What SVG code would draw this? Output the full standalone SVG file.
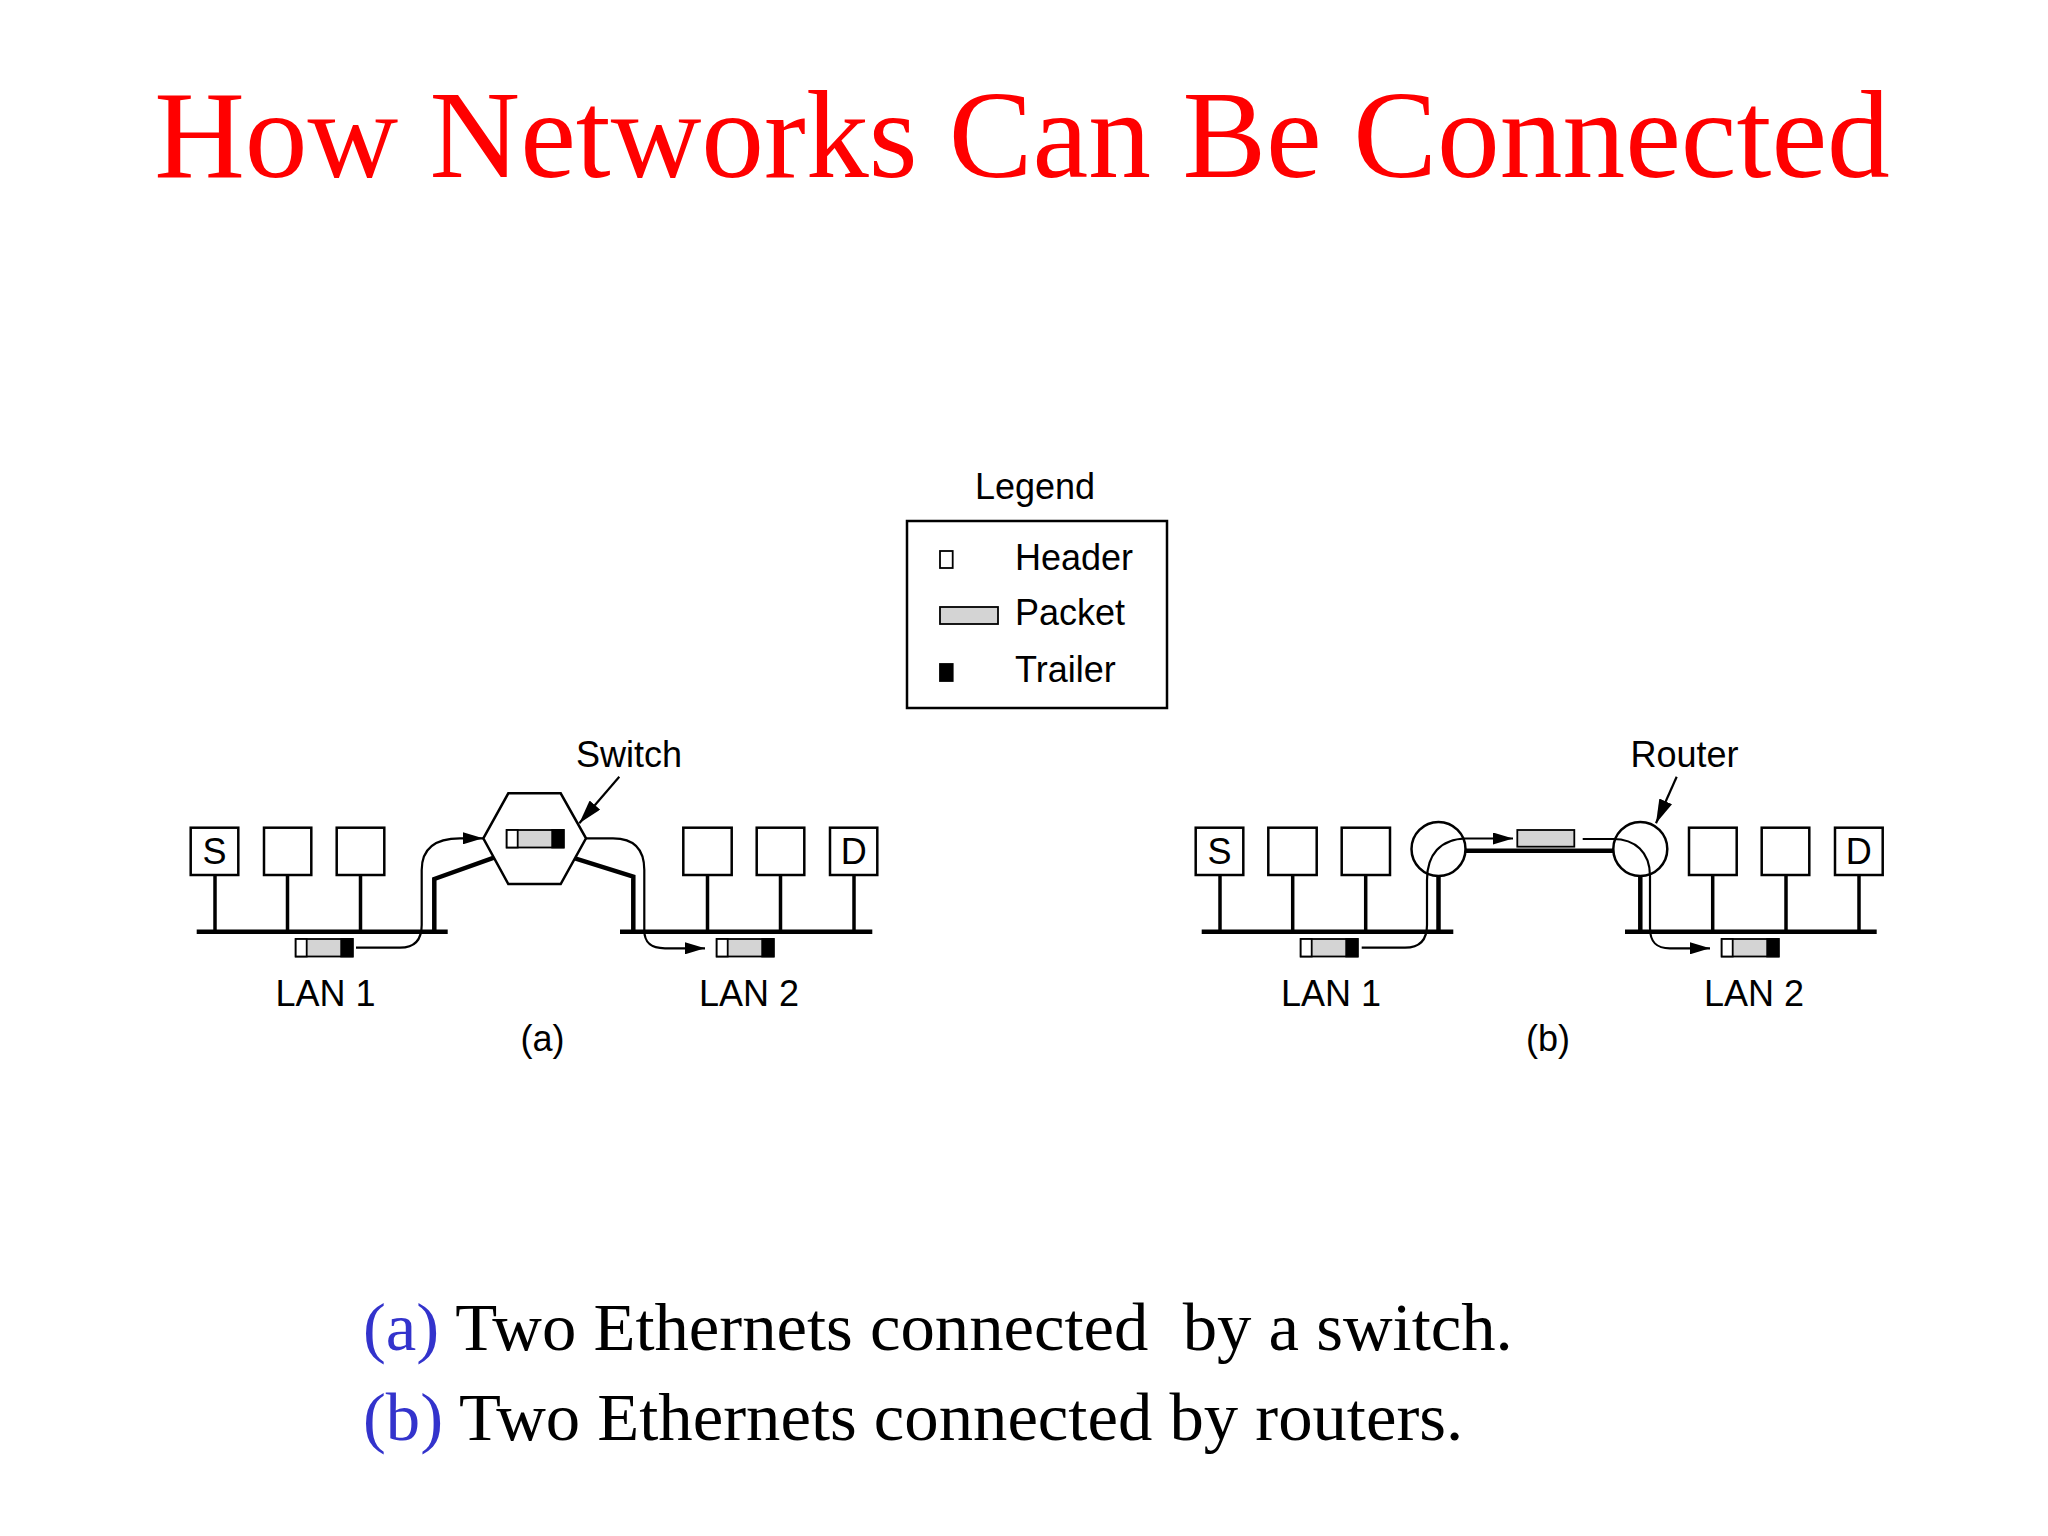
<svg xmlns="http://www.w3.org/2000/svg" xmlns:xlink="http://www.w3.org/1999/xlink" width="2048" height="1536" viewBox="0 0 2048 1536">
<style>
.t{font-family:"Liberation Sans",Arial,sans-serif;font-size:36px;fill:#000}
.ser{font-family:"Liberation Serif","Times New Roman",serif}
.box{fill:#fff;stroke:#000;stroke-width:2.5}
.stem{stroke:#000;stroke-width:3.5;fill:none}
.bus{stroke:#000;stroke-width:4.5;fill:none}
.thin{stroke:#000;stroke-width:2.2;fill:none}
.thick{stroke:#000;stroke-width:4.5;fill:none}
</style>
<defs>
<marker id="ah" markerUnits="userSpaceOnUse" markerWidth="20" markerHeight="12" refX="20" refY="6" orient="auto"><path d="M0,0 L20,6 L0,12 z" fill="#000"/></marker>
<marker id="ah2" markerUnits="userSpaceOnUse" markerWidth="24" markerHeight="14" refX="24" refY="7" orient="auto"><path d="M0,0 L24,7 L0,14 z" fill="#000"/></marker>
<g id="pkt">
<rect x="0" y="0" width="57" height="17.5" fill="#d4d4d4" stroke="#000" stroke-width="1.8"/>
<rect x="0" y="0" width="11" height="17.5" fill="#fff" stroke="#000" stroke-width="1.8"/>
<rect x="45.5" y="0" width="11.5" height="17.5" fill="#000" stroke="#000" stroke-width="1.8"/>
</g>
</defs>
<rect x="0" y="0" width="2048" height="1536" fill="#fff"/>

<g id="title"><text x="1022" y="177" class="ser" font-size="125.5" fill="#ff0000" text-anchor="middle">How Networks Can Be Connected</text></g>

<g id="legend">
<text x="1035" y="499" class="t" font-size="37" text-anchor="middle">Legend</text>
<rect x="907" y="521" width="260" height="187" fill="#fff" stroke="#000" stroke-width="2.5"/>
<rect x="940" y="551" width="12.7" height="17" fill="#fff" stroke="#000" stroke-width="1.8"/>
<rect x="940" y="607" width="58" height="17" fill="#d4d4d4" stroke="#000" stroke-width="1.8"/>
<rect x="940" y="664" width="12.7" height="17" fill="#000" stroke="#000" stroke-width="1.8"/>
<text x="1015" y="570" class="t" font-size="37">Header</text>
<text x="1015" y="625" class="t" font-size="37">Packet</text>
<text x="1015" y="682" class="t" font-size="37">Trailer</text>
</g>

<!-- (a) LAN 1 -->
<g id="a-lan1">
<line class="bus" x1="196.7" y1="931.7" x2="447.7" y2="931.7"/>
<line class="stem" x1="215" y1="875" x2="215" y2="931.7"/>
<line class="stem" x1="287.5" y1="875" x2="287.5" y2="931.7"/>
<line class="stem" x1="360.5" y1="875" x2="360.5" y2="931.7"/>
<rect class="box" x="190.7" y="827.7" width="47.6" height="47.3"/>
<rect class="box" x="264" y="827.7" width="47.3" height="47.3"/>
<rect class="box" x="336.7" y="827.7" width="47.6" height="47.3"/>
<text x="214.5" y="864" class="t" font-size="34" text-anchor="middle">S</text>
<use xlink:href="#pkt" x="295.7" y="939"/>
<text x="325.5" y="1006" class="t" text-anchor="middle">LAN 1</text>
</g>

<g id="switch">
<polygon points="483.3,838.3 508.3,793.3 560.7,793.3 586,838.3 560.7,884 508.3,884" fill="#fff" stroke="#000" stroke-width="2.5"/>
<use xlink:href="#pkt" x="506.7" y="830"/>
<text x="629" y="766.7" class="t" font-size="37" text-anchor="middle">Switch</text>
</g>

<g id="a-lan2">
<line class="bus" x1="620" y1="931.7" x2="872.3" y2="931.7"/>
<line class="stem" x1="707.5" y1="875" x2="707.5" y2="931.7"/>
<line class="stem" x1="780.5" y1="875" x2="780.5" y2="931.7"/>
<line class="stem" x1="854" y1="875" x2="854" y2="931.7"/>
<rect class="box" x="683.3" y="827.7" width="48.4" height="47.3"/>
<rect class="box" x="756.7" y="827.7" width="47.6" height="47.3"/>
<rect class="box" x="830" y="827.7" width="47.3" height="47.3"/>
<text x="853.7" y="864" class="t" font-size="34" text-anchor="middle">D</text>
<use xlink:href="#pkt" x="716.7" y="939"/>
<text x="749" y="1006" class="t" text-anchor="middle">LAN 2</text>
</g>

<g id="a-caption"><text x="542.5" y="1051" class="t" text-anchor="middle">(a)</text></g>

<!-- (b) -->
<g id="b-lan1">
<line class="bus" x1="1201.7" y1="931.7" x2="1453.3" y2="931.7"/>
<line class="stem" x1="1220" y1="875" x2="1220" y2="931.7"/>
<line class="stem" x1="1292.7" y1="875" x2="1292.7" y2="931.7"/>
<line class="stem" x1="1365.7" y1="875" x2="1365.7" y2="931.7"/>
<rect class="box" x="1195.7" y="827.7" width="47.6" height="47.3"/>
<rect class="box" x="1268.3" y="827.7" width="48.4" height="47.3"/>
<rect class="box" x="1341.7" y="827.7" width="48.3" height="47.3"/>
<text x="1219.5" y="864" class="t" font-size="34" text-anchor="middle">S</text>
<use xlink:href="#pkt" x="1300.7" y="939"/>
<text x="1331" y="1006" class="t" text-anchor="middle">LAN 1</text>
</g>

<g id="router1">
<circle cx="1438.5" cy="849" r="27" fill="#fff" stroke="#000" stroke-width="2.5"/>
</g>

<g id="router2">
<circle cx="1640.3" cy="849" r="27" fill="#fff" stroke="#000" stroke-width="2.5"/>
<text x="1684.5" y="766.7" class="t" font-size="37" text-anchor="middle">Router</text>
</g>

<g id="b-packet">
<rect x="1517.3" y="830" width="57" height="16.7" fill="#d4d4d4" stroke="#000" stroke-width="1.8"/>
</g>

<g id="b-lan2">
<line class="bus" x1="1625" y1="931.7" x2="1876.7" y2="931.7"/>
<line class="stem" x1="1712.7" y1="875" x2="1712.7" y2="931.7"/>
<line class="stem" x1="1786" y1="875" x2="1786" y2="931.7"/>
<line class="stem" x1="1859" y1="875" x2="1859" y2="931.7"/>
<rect class="box" x="1689" y="827.7" width="47.7" height="47.3"/>
<rect class="box" x="1761.7" y="827.7" width="47.6" height="47.3"/>
<rect class="box" x="1835" y="827.7" width="47.7" height="47.3"/>
<text x="1858.8" y="864" class="t" font-size="34" text-anchor="middle">D</text>
<use xlink:href="#pkt" x="1721.7" y="939"/>
<text x="1754" y="1006" class="t" text-anchor="middle">LAN 2</text>
</g>

<g id="b-caption"><text x="1548" y="1051" class="t" text-anchor="middle">(b)</text></g>

<g id="connectors">
<!-- (a) -->
<path class="thick" d="M434.3,931.7 V879 L494,857.7"/>
<path class="thick" d="M575,858.3 L633.3,876.7 V931.7"/>
<path class="thin" d="M356,947.7 H400 C415,947.7 421.7,940 421.7,925 V870 C421.7,848 435,838.3 460,838.3 H483" marker-end="url(#ah)"/>
<path class="thin" d="M586,838.3 H613 C635,838.3 644.3,850 644.3,870 V930 C644.3,942 650,948.3 665,948.3 H705" marker-end="url(#ah)"/>
<path class="thin" d="M619.3,776.7 L579.3,823.3" marker-end="url(#ah2)"/>
<!-- (b) -->
<path class="thick" d="M1438.5,876 V931.7"/>
<path class="thick" d="M1465.3,850.7 H1613.5"/>
<path class="thick" d="M1640.3,876 V931.7"/>
<path class="thin" d="M1361.7,947.7 H1405 C1420,947.7 1427,940 1427,925 V880 C1427,855 1440,839 1466,838.5 H1513" marker-end="url(#ah)"/>
<path class="thin" d="M1582.7,839 H1613 C1635,839 1650,852 1650,876 V928 C1650,942 1656,948.3 1670,948.3 H1710" marker-end="url(#ah)"/>
<path class="thin" d="M1676.7,776.7 L1656,823.3" marker-end="url(#ah2)"/>
</g>

<g id="captions" class="ser" font-size="68.7">
<text x="363" y="1350" xml:space="preserve"><tspan fill="#3333cc">(a)</tspan> Two Ethernets connected  by a switch.</text>
<text x="363" y="1440"><tspan fill="#3333cc">(b)</tspan> Two Ethernets connected by routers.</text>
</g>
</svg>
